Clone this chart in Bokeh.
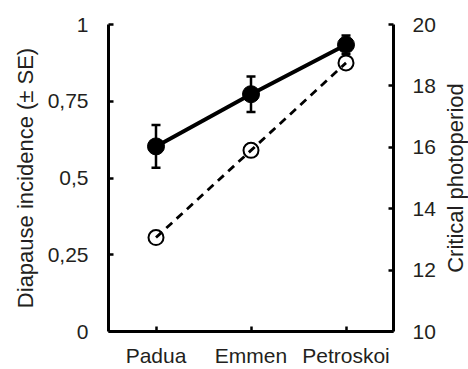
import math
from bokeh.plotting import figure
from bokeh.layouts import row
from bokeh.core.properties import value
from bokeh.models import Range1d, LinearAxis, FixedTicker, ColumnDataSource, Whisker, TeeHead
from bokeh.embed import file_html
from bokeh.resources import INLINE

sites = ["Padua", "Emmen", "Petroskoi"]
xpos = [1, 2, 3]
diapause = [0.603, 0.773, 0.934]
diapause_se = [0.07, 0.058, 0.03]
photoperiod = [13.06, 15.9, 18.75]
left_ticks = [0, 0.25, 0.5, 0.75, 1]
left_labels = ["0", "0,25", "0,5", "0,75", "1"]
right_ticks = [10, 12, 14, 16, 18, 20]
right_title = ["Critical photoperiod"]

FONT = "Liberation Sans"
FS = "21px"
LFS = "22px"
TC = "#231f20"

yr = Range1d(0, 1)
p = figure(width=438, height=369, output_backend="svg", toolbar_location=None,
           x_range=Range1d(0.5, 3.5), y_range=yr,
           min_border_left=108, min_border_right=45, min_border_top=24, min_border_bottom=36)
p.extra_y_ranges = {"cp": Range1d(10, 20)}
p.outline_line_color = None
p.xgrid.visible = False
p.ygrid.visible = False
p.background_fill_color = "white"

def style(ax):
    ax.axis_line_width = 3
    ax.axis_line_color = "black"
    ax.major_tick_line_width = 2.5
    ax.major_tick_line_color = "black"
    ax.major_tick_in = 5
    ax.major_tick_out = 0
    ax.minor_tick_line_color = None
    ax.major_label_text_font = FONT
    ax.major_label_text_font_size = FS
    ax.major_label_text_color = TC
    ax.axis_label_text_font = FONT
    ax.axis_label_text_font_size = LFS
    ax.axis_label_text_font_style = "normal"
    ax.axis_label_text_color = TC

xa = p.xaxis[0]
style(xa)
xa.ticker = FixedTicker(ticks=xpos)
xa.major_label_overrides = {x: s for x, s in zip(xpos, sites)}
xa.major_label_standoff = 12

ya = p.yaxis[0]
style(ya)
ya.ticker = FixedTicker(ticks=left_ticks)
ya.major_label_overrides = {t: l for t, l in zip(left_ticks, left_labels)}
ya.major_label_standoff = 20
ya.axis_label = "Diapause incidence (± SE)"
ya.axis_label_standoff = 7

ra = LinearAxis(y_range_name="cp", ticker=FixedTicker(ticks=right_ticks))
style(ra)
ra.major_label_standoff = 19
p.add_layout(ra, "right")

src = ColumnDataSource(dict(
    x=xpos, y=diapause,
    lo=[d - s for d, s in zip(diapause, diapause_se)],
    hi=[d + s for d, s in zip(diapause, diapause_se)],
))
src2 = ColumnDataSource(dict(x=xpos, y=photoperiod))

p.line("x", "y", source=src, line_color="black", line_width=4)
w = Whisker(source=src, base="x", lower="lo", upper="hi", line_color="black", line_width=2.5,
            upper_head=TeeHead(size=9, line_width=2.5, line_color="black"),
            lower_head=TeeHead(size=9, line_width=2.5, line_color="black"))
p.add_layout(w)
p.scatter("x", "y", source=src, size=17, fill_color="black", line_color="black")
p.scatter("x", "y", source=src2, y_range_name="cp", size=15, fill_color="white",
          line_color="black", line_width=2)
p.line("x", "y", source=src2, y_range_name="cp", line_color="black", line_width=2.8,
       line_dash="8 6")

# narrow strip carrying the right-hand axis title, reading bottom to top
p2 = figure(width=30, height=369, output_backend="svg", toolbar_location=None,
            x_range=Range1d(0, 1), y_range=yr,
            min_border_left=0, min_border_right=0, min_border_top=24, min_border_bottom=36)
p2.axis.visible = False
p2.grid.visible = False
p2.outline_line_color = None
p2.text(x=[0.5], y=[0.5], text=right_title, angle=math.pi / 2, x_offset=2,
        text_align="center", text_baseline="middle", text_font=value(FONT),
        text_font_size=value(LFS), text_color=TC)

open("out.html", "w").write(file_html(row(p, p2), INLINE))
